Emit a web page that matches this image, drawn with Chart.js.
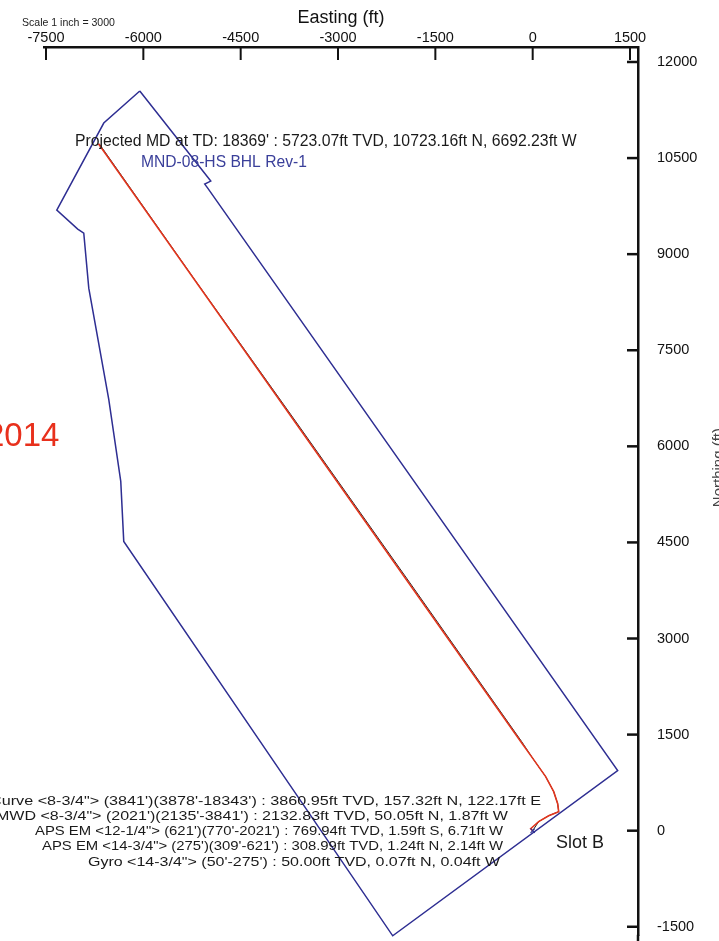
<!DOCTYPE html>
<html>
<head>
<meta charset="utf-8">
<title>Plan View</title>
<script src="https://cdn.jsdelivr.net/npm/chart.js"></script>
<style>
  body { margin: 0; background: #fff; }
</style>
</head>
<body>
<canvas id="planChart" width="719" height="941"></canvas>
<script>
// axis ticks (ft)
var eastTicks = [-7500, -6000, -4500, -3000, -1500, 0, 1500];
var northTicks = [-1500, 0, 1500, 3000, 4500, 6000, 7500, 9000, 10500, 12000];

// lease / hardline boundary
var boundaryE = [-6055, -6610, -7334, -7011, -6918, -6841, -6533, -6348, -6302, -2157, 1310, -5008, -5054, -4961, -6055];
var boundaryN = [11547, 11047, 9688, 9391, 9328, 8469, 6734, 5453, 4516, -1641, 938, 10031, 10094, 10141, 11547];

// planned well path
var wellE = [0, -31, 92, 247, 401, 385, 324, 200, 15, -185, -6692];
var wellN = [0, 31, 141, 234, 297, 422, 609, 844, 1109, 1391, 10723];

// actual survey (black, mostly under the red)
var surveyE = [0, 92, 247, 401, 385, 324, 200, 15, -170, -1900, -3590, -5200, -6680];
var surveyN = [0, 141, 234, 297, 422, 609, 844, 1109, 1391, 3880, 6300, 8590, 10723];

var slotE = [0];
var slotN = [0];

function pts(xs, ys) {
  return xs.map(function(v, i) { return { x: v, y: ys[i] }; });
}

var labelFont = { family: 'Liberation Sans', size: 14.5 };

var extras = {
  id: 'extras',
  afterDraw: function(chart) {
    var ctx = chart.ctx;
    var xs = chart.scales.x, ys = chart.scales.y;
    ctx.save();

    // inward tick marks
    ctx.strokeStyle = '#111';
    ctx.lineWidth = 2;
    xs.ticks.forEach(function(t) {
      var px = xs.getPixelForValue(t.value);
      ctx.beginPath(); ctx.moveTo(px, xs.bottom); ctx.lineTo(px, xs.bottom + 13); ctx.stroke();
    });
    ctx.lineWidth = 2.5;
    ys.ticks.forEach(function(t) {
      var py = ys.getPixelForValue(t.value);
      ctx.beginPath(); ctx.moveTo(ys.left, py); ctx.lineTo(ys.left - 11, py); ctx.stroke();
    });
    // axis runs to the bottom of the page
    ctx.beginPath(); ctx.moveTo(ys.left, ys.bottom - 1); ctx.lineTo(ys.left, chart.height); ctx.stroke();

    // text stretched to run from x0 to x1
    function fit(s, x0, x1, y, color) {
      ctx.font = '10px "Liberation Sans"';
      var size = 10 * (x1 - x0) / ctx.measureText(s).width;
      ctx.font = size.toFixed(2) + 'px "Liberation Sans"';
      ctx.fillStyle = color;
      ctx.textAlign = 'left';
      ctx.textBaseline = 'middle';
      ctx.fillText(s, x0, y);
    }
    // fixed height text, widened or narrowed to span x0..x1
    function span(s, x0, x1, y, size, color) {
      ctx.font = size + 'px "Liberation Sans"';
      var sx = (x1 - x0) / ctx.measureText(s).width;
      ctx.save();
      ctx.translate(x0, y);
      ctx.scale(sx, 1);
      ctx.fillStyle = color;
      ctx.textAlign = 'left';
      ctx.textBaseline = 'middle';
      ctx.fillText(s, 0, 0);
      ctx.restore();
    }

    fit('Scale 1 inch = 3000', 22, 115, 23, '#222');

    fit("Projected MD at TD: 18369' : 5723.07ft TVD, 10723.16ft N, 6692.23ft W", 75, 577, 142, '#1a1a1a');
    fit('MND-08-HS BHL Rev-1', 141, 307, 163, '#3a3f9a');

    ctx.font = '33px "Liberation Sans"';
    ctx.fillStyle = '#e8301c';
    ctx.textAlign = 'left';
    ctx.fillText('2014', -14, 437);

    var k = '#1a1a1a';
    span('Curve <8-3/4"> (3841\')(3878\'-18343\') : 3860.95ft TVD, 157.32ft N, 122.17ft E', -10, 541, 801, 13.5, k);
    span('MWD <8-3/4"> (2021\')(2135\'-3841\') : 2132.83ft TVD, 50.05ft N, 1.87ft W', -4, 508, 816, 13.5, k);
    span('APS EM <12-1/4"> (621\')(770\'-2021\') : 769.94ft TVD, 1.59ft S, 6.71ft W', 35, 503, 831, 13.5, k);
    span('APS EM <14-3/4"> (275\')(309\'-621\') : 308.99ft TVD, 1.24ft N, 2.14ft W', 42, 503, 846, 13.5, k);
    span('Gyro <14-3/4"> (50\'-275\') : 50.00ft TVD, 0.07ft N, 0.04ft W', 88, 500, 862, 13.5, k);

    fit('Slot B', 556, 604, 843, k);

    // side title, mostly off the page
    ctx.translate(723, 428);
    ctx.rotate(-Math.PI / 2);
    ctx.font = '15px "Liberation Sans"';
    ctx.fillStyle = '#444';
    ctx.textAlign = 'right';
    ctx.textBaseline = 'alphabetic';
    ctx.fillText('Northing (ft)', 0, 0);

    ctx.restore();
  }
};

var data = {
  datasets: [
    {
      label: 'Survey',
      data: pts(surveyE, surveyN),
      showLine: true,
      borderColor: '#202020',
      borderWidth: 1,
      pointRadius: 0,
      order: 3
    },
    {
      label: 'Plan',
      data: pts(wellE, wellN),
      showLine: true,
      borderColor: '#e2361e',
      borderWidth: 1.6,
      pointRadius: 0,
      order: 2
    },
    {
      label: 'Boundary',
      data: pts(boundaryE, boundaryN),
      showLine: true,
      borderColor: '#2e2e92',
      borderWidth: 1.5,
      pointRadius: 0,
      clip: false,
      order: 1
    },
    {
      label: 'Slot',
      data: pts(slotE, slotN),
      showLine: false,
      pointStyle: 'crossRot',
      pointRadius: 3,
      borderColor: '#2e2e92',
      borderWidth: 1.2,
      order: 0
    }
  ]
};

var option = {
  responsive: false,
  animation: false,
  layout: { padding: { left: 44, right: 0, top: 0, bottom: 0 } },
  plugins: {
    legend: { display: false },
    tooltip: { enabled: false }
  },
  scales: {
    x: {
      type: 'linear',
      position: 'top',
      min: -7531,
      max: 1623,
      afterBuildTicks: function(scale) {
        scale.ticks = eastTicks.map(function(v) { return { value: v }; });
      },
      afterFit: function(scale) {
        scale.height = 47;
        scale.paddingLeft = 0;
        scale.paddingRight = 0;
      },
      grid: { display: false, drawTicks: false },
      border: { display: true, color: '#111', width: 2.5 },
      ticks: { color: '#111', font: labelFont, padding: 0, maxRotation: 0, autoSkip: false,
        callback: function(v) { return String(v); } },
      title: { display: true, text: 'Easting (ft)', color: '#111',
        font: { family: 'Liberation Sans', size: 18 }, padding: { top: 7, bottom: 0 } }
    },
    y: {
      type: 'linear',
      position: 'right',
      min: -1641,
      max: 12234,
      afterBuildTicks: function(scale) {
        scale.ticks = northTicks.map(function(v) { return { value: v }; });
      },
      afterFit: function(scale) {
        scale.width = 81;
        scale.paddingTop = 0;
        scale.paddingBottom = 0;
      },
      grid: { display: false, drawTicks: false },
      border: { display: true, color: '#111', width: 2.5 },
      ticks: { color: '#111', font: labelFont, padding: 19, autoSkip: false,
        callback: function(v) { return String(v); } }
    }
  }
};

var planChart = new Chart(document.getElementById('planChart'), {
  type: 'scatter',
  data: data,
  options: option,
  plugins: [extras]
});
</script>
</body>
</html>
